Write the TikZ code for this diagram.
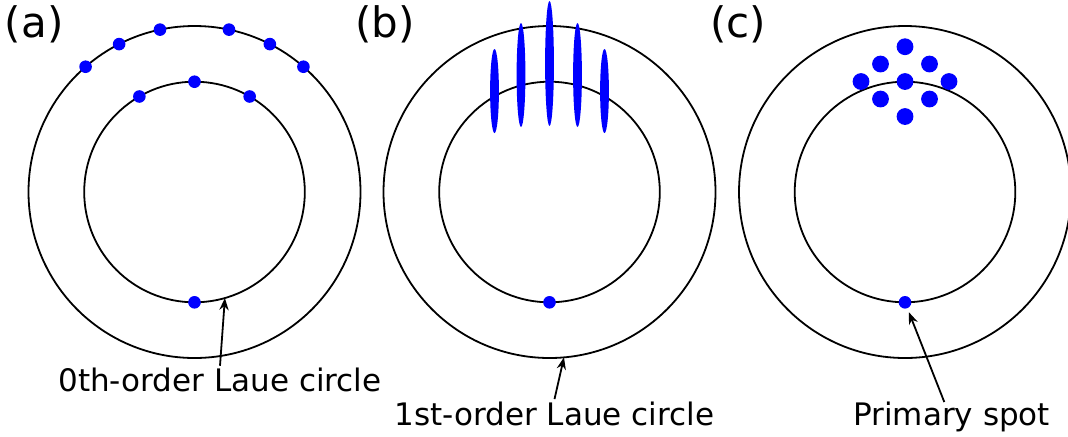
\documentclass[tikz,border=0pt]{standalone}
\usepackage{fontspec}
\setmainfont{DejaVu Sans}
\usepackage{xcolor}
\usepackage{tikz}
\usetikzlibrary{arrows.meta,positioning,shapes.geometric}

\begin{document}
\begin{tikzpicture}[
    x=0.5pt, y=-0.5pt,
    outer/.style={circle, draw=black, line width=0.9pt, minimum size=166pt, inner sep=0pt, outer sep=0pt},
    inner/.style={circle, draw=black, line width=0.9pt, minimum size=110.3pt, inner sep=0pt, outer sep=0pt},
    spot/.style={circle, fill=blue, inner sep=0pt, minimum size=6.3pt},
    bigspot/.style={circle, fill=blue, inner sep=0pt, minimum size=8.4pt},
    streak/.style={ellipse, fill=blue, inner sep=0pt, minimum width=4.4pt},
    panel/.style={anchor=base west, inner sep=0pt, font=\fontsize{21pt}{24pt}\selectfont},
    caption/.style={anchor=base, inner sep=1pt, font=\fontsize{15.5pt}{18pt}\selectfont},
    arrow/.style={-{Stealth[length=6pt, width=4.6pt]}, line width=0.9pt}
]
    \useasboundingbox (0,0) rectangle (1068,436);

    % Panel (a)
    \node[panel] (tagA) at (4.5,37.5) {(a)};
    \node[outer] (outerA) at (194.5,192) {};
    \node[inner] (innerA) at (194.5,192) {};
    \node[spot] (a1) at (outerA.131) {};
    \node[spot] (a2) at (outerA.117) {};
    \node[spot] (a3) at (outerA.102) {};
    \node[spot] (a4) at (outerA.78) {};
    \node[spot] (a5) at (outerA.63) {};
    \node[spot] (a6) at (outerA.49) {};
    \node[spot] (a7) at (innerA.120) {};
    \node[spot] (a8) at (innerA.90) {};
    \node[spot] (a9) at (innerA.60) {};
    \node[spot] (spotA) at (innerA.270) {};
    \node[caption] (lblA) at (220,391.7) {0th-order Laue circle};

    % Panel (b)
    \node[panel] (tagB) at (355,37.5) {(b)};
    \node[outer] (outerB) at (549.5,192) {};
    \node[inner] (innerB) at (549.5,192) {};
    \node[streak, minimum height=42pt] (b1) at (494.5,91) {};
    \node[streak, minimum height=52pt] (b2) at (521,75) {};
    \node[streak, minimum height=62.5pt] (b3) at (549.5,63.5) {};
    \node[streak, minimum height=52pt] (b4) at (577.5,75) {};
    \node[streak, minimum height=42pt] (b5) at (604.5,91) {};
    \node[spot] (spotB) at (innerB.270) {};
    \node[caption] (lblB) at (554.5,425) {1st-order Laue circle};

    % Panel (c)
    \node[panel] (tagC) at (710,37.5) {(c)};
    \node[outer] (outerC) at (905,192) {};
    \node[inner] (innerC) at (905,192) {};
    \node[bigspot] (c1) at (905,46.7) {};
    \node[bigspot] (c2) at (880.5,64) {};
    \node[bigspot] (c3) at (929.5,64) {};
    \node[bigspot] (c4) at (861,81.5) {};
    \node[bigspot] (c5) at (905,81.5) {};
    \node[bigspot] (c6) at (949,81.5) {};
    \node[bigspot] (c7) at (880.5,99) {};
    \node[bigspot] (c8) at (929.5,99) {};
    \node[bigspot] (c9) at (905,116.5) {};
    \node[spot] (spotC) at (innerC.270) {};
    \node[caption] (lblC) at (951.7,425) {Primary spot};

    % Arrows
    \draw[arrow] (lblA.north) -- (innerA.-74);
    \draw[arrow] (lblB.north) -- (outerB.-85.5);
    \draw[arrow, shorten >=2pt] ([xshift=-3.7pt, yshift=-1.5pt]lblC.north) -- (spotC);
\end{tikzpicture}
\end{document}
